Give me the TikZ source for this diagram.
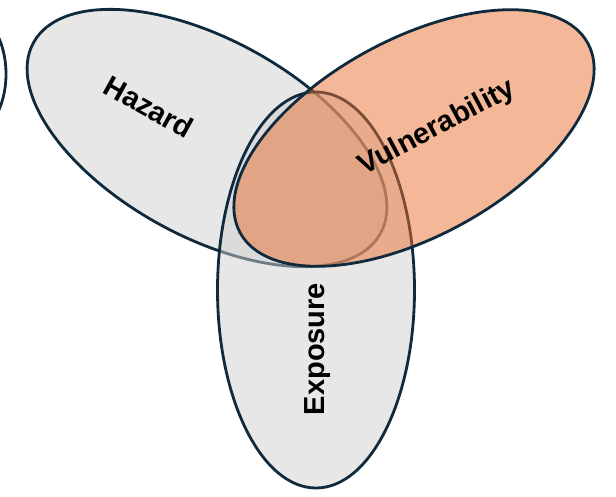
\documentclass[tikz,border=0pt]{standalone}
\usepackage{fontspec}
\setmainfont{Liberation Sans}
\usetikzlibrary{shapes.geometric}
\definecolor{navy}{HTML}{0E2A3C}
\definecolor{grayfill}{HTML}{CFCFCF}
\definecolor{orangefill}{HTML}{E97132}
\tikzset{
  blob/.style={ellipse, draw=navy, line width=2.8pt, inner sep=0pt, outer sep=0pt,
    minimum width=396pt, minimum height=197pt, fill opacity=0.5, draw opacity=1},
  lbl/.style={font=\fontsize{29}{34}\selectfont\bfseries, text=black, inner sep=0pt}
}
\begin{document}
\begin{tikzpicture}[x=1pt,y=-1pt]
\useasboundingbox (0,0) rectangle (616,496);
% partial ellipse at left edge
\node[ellipse, draw=navy, line width=2.8pt, inner sep=0pt, minimum width=74pt, minimum height=122pt] (other) at (-31,74) {};
% Hazard
\node[blob, fill=grayfill, rotate=-28.8] (haz) at (207,138) {};
% Exposure
\node[blob, fill=grayfill, rotate=90] (exp) at (316,290) {};
% Vulnerability
\node[blob, fill=orangefill, rotate=28.6] (vul) at (414,138) {};
% labels
\node[lbl, rotate=-29] (hazl) at (149,107) {Hazard};
\node[lbl, rotate=28] (vull) at (437,128) {Vulnerability};
\node[lbl, rotate=90] (expl) at (318,349) {Exposure};
\end{tikzpicture}
\end{document}
